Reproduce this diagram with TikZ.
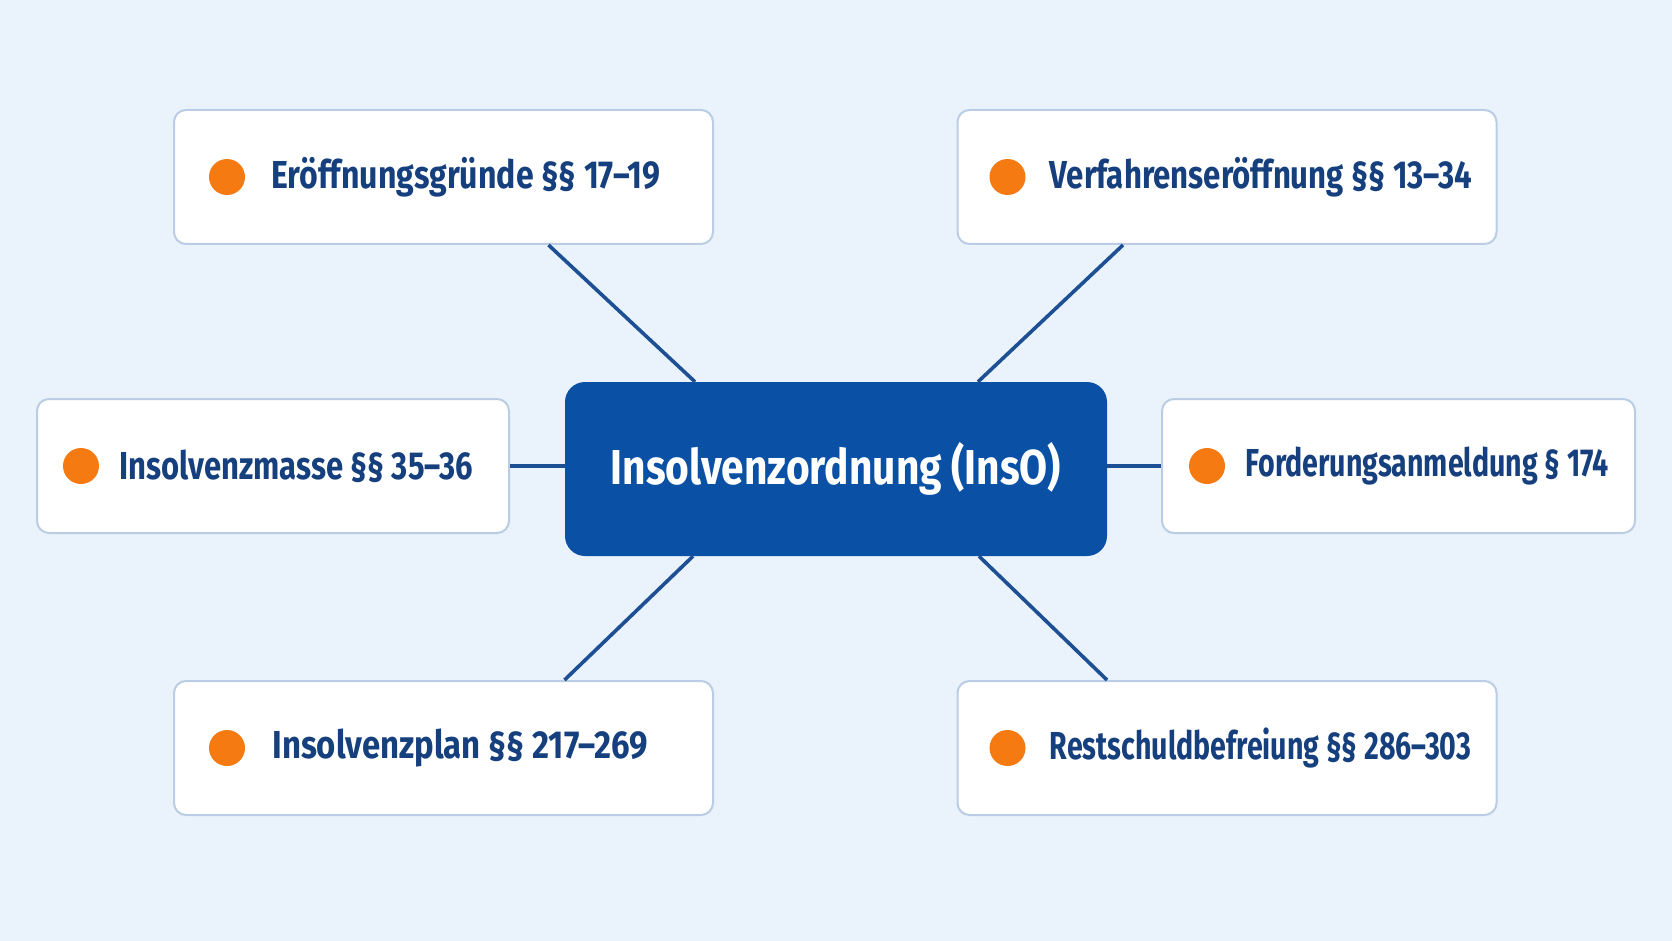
\documentclass[tikz,border=0pt]{standalone}
\usepackage{fontspec}
\setmainfont{Fira Sans}[FakeStretch=0.74]
\newfontfamily\corefont{Fira Sans}[FakeStretch=0.83]
\usetikzlibrary{positioning}
\definecolor{bgblue}{HTML}{EAF3FC}
\definecolor{frameblue}{HTML}{BACDE4}
\definecolor{coreblue}{HTML}{0A51A6}
\definecolor{inkblue}{HTML}{163F7E}
\definecolor{linkblue}{HTML}{1D4F94}
\definecolor{dotorange}{HTML}{F67A12}
\tikzset{
	leaf/.style={draw=frameblue, line width=2pt, fill=white, rounded corners=12pt, minimum width=#1, minimum height=134pt},
	leaf/.default=539pt,
	core/.style={fill=coreblue, rounded corners=20pt, minimum width=542pt, minimum height=174pt, text=white, font=\corefont\fontsize{49}{52}\selectfont\bfseries},
	bullet/.style={circle, fill=dotorange, inner sep=0pt, minimum size=36pt},
	caption/.style={inner sep=0pt, text=inkblue, font=\fontsize{39}{42}\selectfont\bfseries, transform shape, xscale=#1},
	caption/.default=1,
	link/.style={draw=linkblue, line width=3.6pt}
}
\begin{document}
\begin{tikzpicture}[x=1pt,y=-1pt]
	\fill[bgblue] (0,0) rectangle (1672,941);

	\node[core] (inso) at (836,469) {Insolvenzordnung (InsO)};

	\node[leaf] (eroeff) at (443.5,177) {};
	\node[leaf] (verf) at (1227,177) {};
	\node[leaf=472pt] (masse) at (273,466) {};
	\node[leaf=473pt] (ford) at (1398.5,466) {};
	\node[leaf] (plan) at (443.5,748) {};
	\node[leaf] (rsb) at (1227,748) {};

	\node[bullet] (eroeff-dot) at ([xshift=54pt]eroeff.west) {};
	\node[caption=1.11, right=26pt of eroeff-dot] (eroeff-txt) {Eröffnungsgründe §§ 17–19};
	\node[bullet] (verf-dot) at ([xshift=51pt]verf.west) {};
	\node[caption=1.08, right=24pt of verf-dot] (verf-txt) {Verfahrenseröffnung §§ 13–34};
	\node[bullet] (masse-dot) at ([xshift=45pt]masse.west) {};
	\node[caption=1.075, right=20pt of masse-dot] (masse-txt) {Insolvenzmasse §§ 35–36};
	\node[bullet] (ford-dot) at ([xshift=46pt]ford.west) {};
	\node[caption=0.99, right=20pt of ford-dot] (ford-txt) {Forderungsanmeldung § 174};
	\node[bullet] (plan-dot) at ([xshift=54pt]plan.west) {};
	\node[caption=1.14, right=27pt of plan-dot] (plan-txt) {Insolvenzplan §§ 217–269};
	\node[bullet] (rsb-dot) at ([xshift=51pt]rsb.west) {};
	\node[caption=0.99, right=24pt of rsb-dot] (rsb-txt) {Restschuldbefreiung §§ 286–303};

	\path[link] ([xshift=105pt]eroeff.south) -- ([xshift=-141pt]inso.north);
	\path[link] ([xshift=-104pt]verf.south) -- ([xshift=142pt]inso.north);
	\path[link] (masse.east) -- (masse.east -| inso.west);
	\path[link] (ford.west) -- (ford.west -| inso.east);
	\path[link] ([xshift=-143pt]inso.south) -- ([xshift=121pt]plan.north);
	\path[link] ([xshift=143pt]inso.south) -- ([xshift=-120pt]rsb.north);
\end{tikzpicture}
\end{document}
